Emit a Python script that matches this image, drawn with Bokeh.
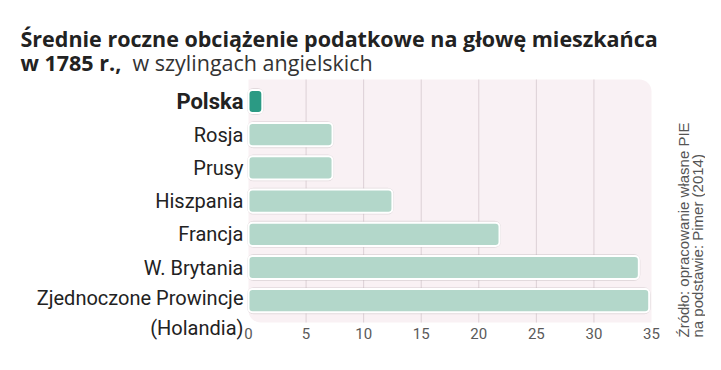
import numpy as np
from bokeh.plotting import figure
from bokeh.models import ColumnDataSource, Range1d
from bokeh.core.properties import value
from bokeh.embed import file_html
from bokeh.resources import INLINE

# ---------------- data ----------------
countries = ["Polska", "Rosja", "Prusy", "Hiszpania", "Francja", "W. Brytania",
             "Zjednoczone Prowincje\n(Holandia)"]
values = [1.2, 7.3, 7.3, 12.5, 21.8, 33.9, 34.8]
highlight = [True, False, False, False, False, False, False]
x_ticks = [0, 5, 10, 15, 20, 25, 30, 35]

title_1 = "Średnie roczne obciążenie podatkowe na głowę mieszkańca"
title_2a = "w 1785 r.,"
title_2b = "w szylingach angielskich"
source_1 = "Źródło: opracowanie własne PIE"
source_2 = "na podstawie: Pimer (2014)"

# ---------------- style ----------------
FONT = "Roboto"
TFONT = "Open Sans"
C_HI = "#2b9a84"
C_BAR = "#b3d7ca"
C_BG = "#f9f1f4"
C_GRID = "#dcd0d5"

W, H = 705, 354
# picture-pixel geometry of the value scale
X0_PX, X35_PX = 248.0, 651.0
PX_PER_X = (X35_PX - X0_PX) / 35.0
ROW0_PX, PX_PER_ROW = 101.0, 33.2


def px_x(px):
    return (px - X0_PX) / PX_PER_X


def px_y(py):
    return (py - ROW0_PX) / PX_PER_ROW


rows = list(range(len(countries)))
bar_colors = [C_HI if h else C_BAR for h in highlight]
label_dy = [12 if "\n" in c else 0 for c in countries]

src = ColumnDataSource(dict(country=countries, value=values, row=rows,
                            color=bar_colors, zero=[0] * len(values)))
bold_src = ColumnDataSource(dict(country=[c for c, h in zip(countries, highlight) if h],
                                 row=[r for r, h in zip(rows, highlight) if h]))
norm_src = ColumnDataSource(dict(country=[c for c, h in zip(countries, highlight) if not h],
                                 row=[r for r, h in zip(rows, highlight) if not h],
                                 dy=[d for d, h in zip(label_dy, highlight) if not h]))

p = figure(width=W, height=H,
           x_range=Range1d(px_x(0), px_x(W)),
           y_range=Range1d(px_y(H), px_y(0)),
           x_axis_location=None, y_axis_location=None,
           output_backend="svg", toolbar_location=None, min_border=0)
p.background_fill_color = "white"
p.border_fill_color = "white"
p.outline_line_color = None
p.grid.visible = False

# plot area background
bg_top, bg_bottom = px_y(79), px_y(322)
p.quad(left=[0], right=[35], top=[bg_top], bottom=[bg_bottom],
       fill_color=C_BG, line_color=None, border_radius=(0, 12, 0, 12))

# vertical grid lines
grid_x = x_ticks[1:-1]
p.segment(x0=grid_x, x1=grid_x, y0=[bg_top] * len(grid_x), y1=[bg_bottom] * len(grid_x),
          line_color=C_GRID, line_width=1)

# bar shadows + bars
p.hbar(y="row", left="zero", right="value", height=0.72, source=src,
       fill_color="#b8aeb2", fill_alpha=0.35, line_color="#b8aeb2",
       line_alpha=0.35, line_width=3, border_radius=5)
p.hbar(y="row", left="zero", right="value", height=0.70, source=src,
       fill_color="color", line_color="white", line_width=2, border_radius=4)

# category labels
p.text(x=0, y="row", text="country", source=norm_src, x_offset=-5, y_offset="dy",
       text_align="right", text_baseline="middle", text_font=value(FONT),
       text_font_size="20px", text_color="#222222", text_line_height=1.25)
p.text(x=0, y="row", text="country", source=bold_src, x_offset=-5,
       text_align="right", text_baseline="middle", text_font=value(FONT),
       text_font_size="22px", text_color="#222222", text_font_style="bold")

# x tick labels
p.text(x=x_ticks, y=[px_y(333)] * len(x_ticks), text=[str(t) for t in x_ticks],
       text_align="center", text_baseline="middle", text_font=value(FONT),
       text_font_size="15px", text_color="#5a5a5a", text_font_style="normal")

# title
p.text(x=[px_x(20)], y=[px_y(38)], text=[title_1], text_align="left",
       text_baseline="alphabetic", text_font=value(TFONT), text_font_size="21.5px",
       text_font_style="bold", text_color="#222222")
p.text(x=[px_x(20)], y=[px_y(62)], text=[title_2a], text_align="left",
       text_baseline="alphabetic", text_font=value(TFONT), text_font_size="21.5px",
       text_font_style="bold", text_color="#222222")
p.text(x=[px_x(20)], y=[px_y(62)], text=[title_2b], x_offset=112, text_align="left",
       text_baseline="alphabetic", text_font=value(TFONT), text_font_size="21.5px",
       text_font_style="normal", text_color="#333333")

# source (rotated)
p.text(x=[px_x(683), px_x(697)], y=[px_y(337), px_y(337)], text=[source_1, source_2],
       angle=np.pi / 2, text_align="left", text_baseline="middle",
       text_font=value("Liberation Sans"), text_font_size="15px", text_color="#555555")

open("out.html", "w").write(file_html(p, INLINE))
